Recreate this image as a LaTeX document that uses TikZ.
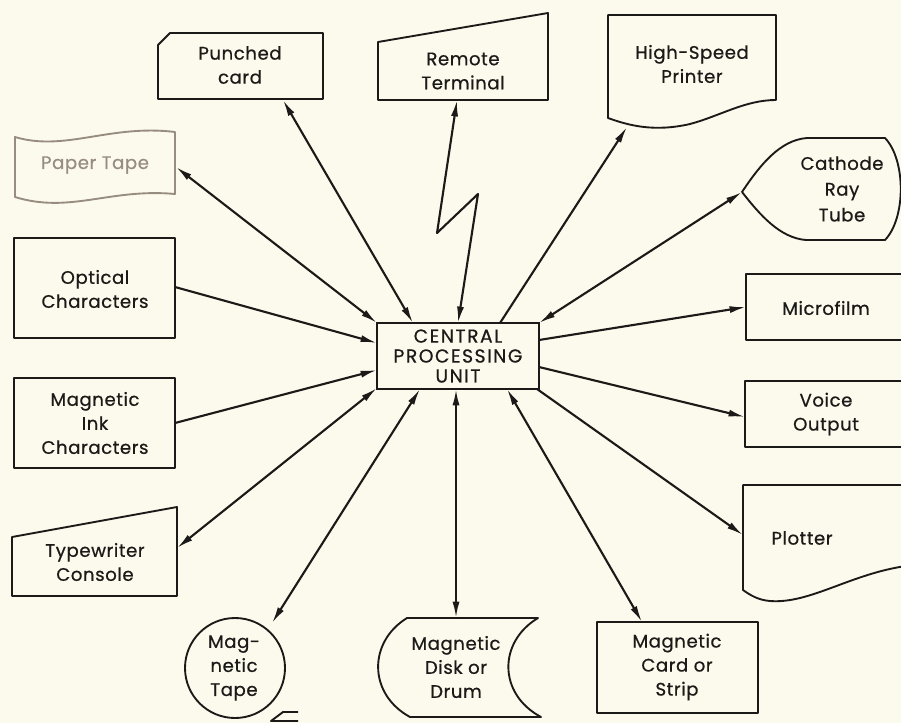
\documentclass[tikz,border=0pt]{standalone}
\usepackage{fontspec}
\setmainfont{Poppins}[FakeBold=0.6,LetterSpace=3]
\usetikzlibrary{arrows.meta}
\definecolor{bg}{RGB}{252,250,236}
\definecolor{ink}{RGB}{28,26,24}
\definecolor{faded}{RGB}{150,140,128}
\begin{document}
\begin{tikzpicture}[x=0.03cm,y=-0.03cm,
  shp/.style={draw=ink,line width=1.6pt,line join=round},
  lbl/.style={text=ink,align=center,font=\fontsize{15.5}{20.5}\selectfont,inner sep=0pt},
  con/.style={draw=ink,line width=1.8pt,line join=round},
  tip/.style={-{Latex[length=14pt,width=6pt]}},
  tips/.style={{Latex[length=14pt,width=6pt]}-{Latex[length=14pt,width=6pt]}}]
\fill[bg] (0,0) rectangle (901,723);
\useasboundingbox (0,0) rectangle (901,723);
\clip (0,0) rectangle (901,723);

% ---------- CPU ----------
\node[draw=ink,line width=1.6pt,minimum width=4.86cm,minimum height=1.98cm,
  align=center,text=ink,font=\fontsize{16}{17}\selectfont\addfontfeature{LetterSpace=8},inner sep=0pt]
  (cpu) at (458,356) {CENTRAL\\PROCESSING\\UNIT};

% ---------- shapes ----------
% Punched card
\draw[shp] (170,33) -- (323,33) -- (323,99) -- (158,99) -- (158,45) -- cycle;
\node[lbl] (pc) at (240,65) {Punched\\card};
% Remote terminal
\draw[shp] (378,42) -- (548,13) -- (548,100) -- (378,100) -- cycle;
\node[lbl] (rt) at (463,71) {Remote\\Terminal};
% High-speed printer
\draw[shp] (608,15) -- (776,15) -- (776,100)
  .. controls (745,100) and (720,116) .. (690,124)
  .. controls (655,132) and (630,126) .. (608,118) -- cycle;
\node[lbl] (hp) at (692,64) {High-Speed\\Printer};
% Cathode ray tube
\draw[shp] (742,192) .. controls (760,165) and (780,140) .. (807,138) -- (885,138)
  .. controls (906,160) and (906,218) .. (885,240) -- (806,240)
  .. controls (780,238) and (760,215) .. cycle;
\node[lbl,font=\fontsize{15.5}{22}\selectfont] (crt) at (842,189) {Cathode\\Ray\\Tube};
% Paper tape
\draw[shp,draw=faded] (15,137) .. controls (65,152) and (110,124) .. (175,132) -- (175,194)
  .. controls (110,188) and (70,214) .. (15,197) -- cycle;
\node[lbl,text=faded] (pt) at (95,165) {Paper Tape};
% Optical characters
\draw[shp] (14,238) rectangle (175,338);
\node[lbl] (oc) at (95,289) {Optical\\Characters};
% Magnetic ink characters
\draw[shp] (14,378) rectangle (175,468);
\node[lbl] (mi) at (95,423) {Magnetic\\Ink\\Characters};
% Typewriter console
\draw[shp] (12,537) -- (177,507) -- (177,596) -- (12,596) -- cycle;
\node[lbl] (tw) at (95,562) {Typewriter\\Console};
% Magnetic tape
\draw[shp] (235,668) circle[radius=50];
\draw[shp] (298,712) -- (283,712) -- (271,721) -- (298,721);
\node[lbl] (mt) at (234,668) {Mag-\\netic\\Tape};
% Magnetic disk or drum
\draw[shp] (407,618) -- (538,618) .. controls (498,642) and (498,694) .. (541,717)
  -- (410,717) .. controls (368,694) and (368,642) .. cycle;
\node[lbl] (md) at (456,667) {Magnetic\\Disk or\\Drum};
% Magnetic card or strip
\draw[shp] (597,622) rectangle (758,713);
\node[lbl] (mc) at (677,667) {Magnetic\\Card or\\Strip};
% Plotter
\draw[shp] (906,485) -- (743,485) -- (743,590)
  .. controls (750,595) and (758,600) .. (770,601)
  .. controls (810,604) and (850,574) .. (906,566);
\node[lbl] (pl) at (802,538) {Plotter};
% Voice output
\draw[shp] (906,381) -- (745,381) -- (745,447) -- (906,447);
\node[lbl] (vo) at (826,414) {Voice\\Output};
% Microfilm
\draw[shp] (906,274) -- (746,274) -- (746,340) -- (906,340);
\node[lbl] (mf) at (826,308) {Microfilm};

% ---------- connector end points ----------
\coordinate (pcE) at (283,100);   \coordinate (pcC) at (413,323);
\coordinate (rtE) at (457,100);   \coordinate (rtC) at (458,323);
\coordinate (rtZ1) at (437,233);  \coordinate (rtZ2) at (478,194);
\coordinate (hpE) at (627,127);   \coordinate (hpC) at (500,323);
\coordinate (crtE) at (742,192);  \coordinate (crtC) at (539,323);
\coordinate (mfE) at (746,307);   \coordinate (mfC) at (539,340);
\coordinate (voE) at (745,417);   \coordinate (voC) at (539,367);
\coordinate (plE) at (743,535);   \coordinate (plC) at (537,389);
\coordinate (mcE) at (642,622);   \coordinate (mcC) at (507,389);
\coordinate (mdE) at (456,618);   \coordinate (mdC) at (456,389);
\coordinate (mtE) at (272,623);   \coordinate (mtC) at (420,389);
\coordinate (twE) at (177,548);   \coordinate (twC) at (377,388);
\coordinate (miE) at (175,423);   \coordinate (miC) at (377,370);
\coordinate (ocE) at (175,287);   \coordinate (ocC) at (377,343);
\coordinate (ptE) at (176,167);   \coordinate (ptC) at (377,323);

% ---------- connectors ----------
\draw[con,tips] (pcC) -- (pcE);
\draw[con,tips] (rtC) -- (rtZ2) -- (rtZ1) -- (rtE);
\draw[con,tip] (hpC) -- (hpE);
\draw[con,tips] (crtC) -- (crtE);
\draw[con,tip] (mfC) -- (mfE);
\draw[con,tip] (voC) -- (voE);
\draw[con,tip] (plC) -- (plE);
\draw[con,tips] (mcC) -- (mcE);
\draw[con,tips] (mdC) -- (mdE);
\draw[con,tips] (mtC) -- (mtE);
\draw[con,tips] (twC) -- (twE);
\draw[con,tip] (miE) -- (miC);
\draw[con,tip] (ocE) -- (ocC);
\draw[con,tips] (ptC) -- (ptE);
\end{tikzpicture}
\end{document}
